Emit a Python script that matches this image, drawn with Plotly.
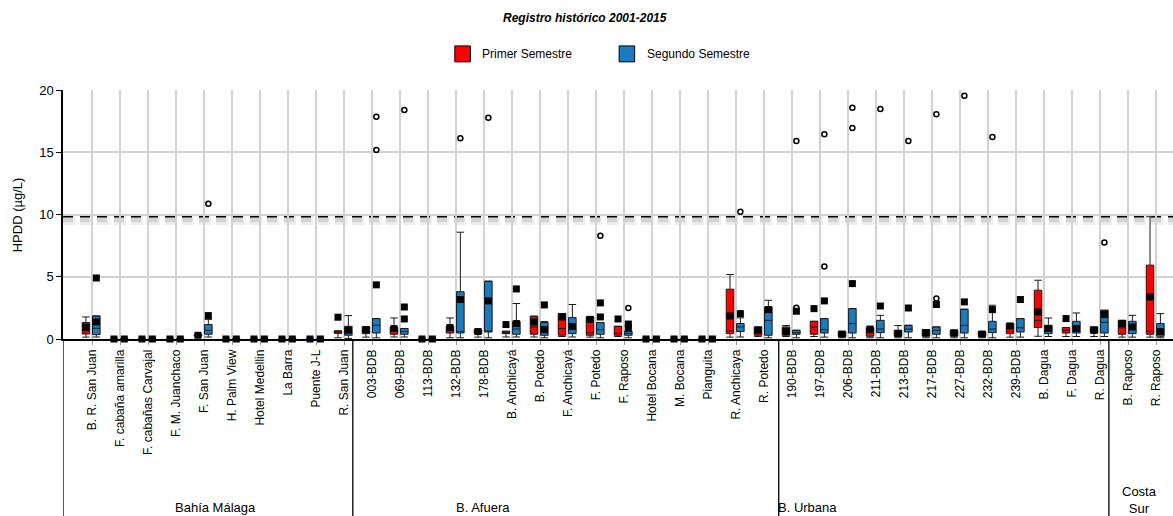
import plotly.graph_objects as go

categories = ["B. R. San Juan", "F. cabaña amarilla", "F. cabañas Carvajal", "F. M. Juanchaco",
              "F. San Juan", "H. Palm View", "Hotel Medellin", "La Barra", "Puente J-L", "R. San Juan",
              "003-BDB", "069-BDB", "113-BDB", "132-BDB", "178-BDB", "B. Anchicayá", "B. Potedo",
              "F. Anchicayá", "F. Potedo", "F. Raposo", "Hotel Bocana", "M. Bocana", "Pianguita",
              "R. Anchicaya", "R. Potedo", "190-BDB", "197-BDB", "206-BDB", "211-BDB", "213-BDB",
              "217-BDB", "227-BDB", "232-BDB", "239-BDB", "B. Dagua", "F. Dagua", "R. Dagua",
              "B. Raposo", "R. Raposo"]

groups = ["Bahía Málaga", "B. Afuera", "B. Urbana", "Costa<br>Sur"]

# Primer Semestre (red) box statistics
red_low = [0.15, 0, 0, 0, 0.2, 0, 0, 0, 0, 0.1, 0.15, 0.16, 0, 0.1, 0.15, 0.16, 0.16, 0.2, 0.15, 0.2,
           0, 0, 0, 0.15, 0.2, 0.2, 0.2, 0.1, 0.1, 0.1, 0.1, 0.1, 0.1, 0.15, 0.22, 0.2, 0.2, 0.15, 0.15]
red_q1 = [0.4, 0, 0, 0, 0.25, 0, 0, 0, 0, 0.45, 0.43, 0.38, 0, 0.48, 0.43, 0.43, 0.38, 0.3, 0.3, 0.3,
          0, 0, 0, 0.43, 0.3, 0.3, 0.38, 0.2, 0.22, 0.22, 0.22, 0.22, 0.2, 0.43, 0.92, 0.48, 0.48, 0.38, 0.38]
red_med = [0.65, 0, 0, 0, 0.3, 0, 0, 0, 0, 0.55, 0.6, 0.6, 0, 0.7, 0.6, 0.5, 0.97, 0.84, 0.5, 0.46,
           0, 0, 0, 0.65, 0.5, 0.55, 0.97, 0.35, 0.5, 0.4, 0.45, 0.45, 0.4, 0.6, 1.5, 0.7, 0.7, 0.9, 0.62]
red_q3 = [1.32, 0, 0, 0, 0.35, 0, 0, 0, 0, 0.65, 0.97, 0.97, 0, 1.02, 0.75, 0.62, 1.83, 2.04, 1.77, 1.02,
          0, 0, 0, 4.0, 0.97, 0.97, 1.42, 0.6, 0.92, 0.7, 0.75, 0.7, 0.6, 1.24, 3.92, 0.92, 0.97, 1.5, 5.93]
red_high = [1.77, 0, 0, 0, 0.38, 0, 0, 0, 0, 0.65, 0.97, 1.69, 0, 1.69, 0.75, 0.62, 1.83, 2.04, 1.77, 1.02,
            0, 0, 0, 5.18, 0.97, 1.08, 1.42, 0.6, 0.92, 1.08, 0.75, 0.7, 0.6, 1.24, 4.72, 0.92, 0.97, 1.5, 9.82]

# Segundo Semestre (blue) box statistics
blue_low = [0.16, 0, 0, 0, 0.16, 0, 0, 0, 0, 0.05, 0.1, 0.16, 0, 0.1, 0.1, 0.16, 0.1, 0.16, 0.1, 0.1,
            0, 0, 0, 0.16, 0.1, 0.1, 0.15, 0.1, 0.1, 0.1, 0.1, 0.1, 0.1, 0.15, 0.2, 0.2, 0.2, 0.15, 0.1]
blue_q1 = [0.35, 0, 0, 0, 0.38, 0, 0, 0, 0, 0.3, 0.48, 0.38, 0, 0.48, 0.56, 0.38, 0.3, 0.43, 0.38, 0.3,
           0, 0, 0, 0.6, 0.3, 0.38, 0.48, 0.48, 0.51, 0.56, 0.38, 0.48, 0.51, 0.56, 0.43, 0.48, 0.48, 0.43, 0.22]
blue_med = [0.86, 0, 0, 0, 0.7, 0, 0, 0, 0, 0.6, 1.1, 0.6, 0, 0.6, 0.6, 0.8, 0.6, 0.8, 0.75, 0.45,
            0, 0, 0, 0.97, 1.5, 0.5, 0.75, 1.24, 0.8, 0.8, 0.7, 1.1, 0.8, 0.9, 0.8, 1.0, 1.34, 0.97, 0.75]
blue_q3 = [1.85, 0, 0, 0, 1.16, 0, 0, 0, 0, 1.02, 1.64, 0.84, 0, 3.8, 4.64, 1.42, 1.32, 1.72, 1.32, 0.62,
           0, 0, 0, 1.24, 2.57, 0.7, 1.64, 2.44, 1.5, 1.1, 0.97, 2.39, 1.42, 1.64, 1.1, 1.42, 2.31, 1.42, 1.24]
blue_high = [1.85, 0, 0, 0, 1.58, 0, 0, 0, 0, 1.88, 1.64, 0.84, 0, 8.58, 4.64, 2.85, 1.4, 2.77, 1.32, 0.62,
             0, 0, 0, 1.7, 3.11, 0.7, 1.64, 2.44, 1.9, 1.1, 0.97, 2.39, 2.71, 1.64, 1.69, 2.09, 2.31, 1.9, 2.04]

# black square markers (category index, value)
red_sq_cat = [0, 1, 2, 3, 4, 5, 6, 7, 8, 9, 10, 11, 12, 13, 14, 15, 16, 17, 18, 19, 20, 21, 22,
              23, 24, 25, 26, 27, 28, 29, 30, 31, 32, 33, 34, 35, 36, 37, 38]
red_sq_val = [0.95, 0, 0, 0, 0.3, 0, 0, 0, 0, 1.75, 0.75, 0.84, 0, 0.92, 0.6, 1.16, 1.37, 1.77, 1.58, 1.61,
              0, 0, 0, 1.85, 0.7, 0.6, 2.44, 0.4, 0.8, 0.45, 0.5, 0.5, 0.4, 1.05, 2.17, 1.64, 0.7, 1.24, 3.38]
blue_sq_cat = [0, 0, 1, 2, 3, 4, 5, 6, 7, 8, 9, 10, 11, 11, 12, 13, 14, 15, 15, 16, 16, 17, 18, 18,
               19, 19, 20, 21, 22, 23, 24, 25, 26, 27, 28, 29, 30, 31, 32, 33, 34, 35, 36, 37, 38]
blue_sq_val = [1.37, 4.9, 0, 0, 0, 1.88, 0, 0, 0, 0, 0.7, 4.35, 1.61, 2.57, 0, 3.17, 3.06, 1.24, 4.02,
               0.75, 2.74, 1.0, 1.77, 2.9, 1.2, 0.9, 0, 0, 0, 2.04, 2.36, 2.23, 3.06, 4.45, 2.65, 2.49,
               2.77, 2.98, 2.36, 3.17, 0.84, 0.84, 1.96, 0.97, 0.6]

# open-circle outliers (all in Segundo Semestre)
blue_out_cat = [4, 10, 10, 11, 13, 14, 18, 19, 23, 25, 25, 26, 26, 27, 27, 28, 29, 30, 30, 31, 32, 36]
blue_out_val = [10.86, 17.86, 15.18, 18.4, 16.12, 17.78, 8.29, 2.5, 10.22, 15.9, 2.52, 16.44, 5.82,
                18.58, 16.95, 18.48, 15.9, 18.05, 3.25, 19.53, 16.22, 7.76]

limit_dashed = 9.87
limit_solid = 5

RED = "#FF0000"
BLUE = "#1B7BC0"
OFF_R, OFF_B = -0.22, 0.15
FONT = "Liberation Sans, Arial, sans-serif"

n = len(categories)
idx = list(range(n))

fig = go.Figure()

fig.add_trace(go.Box(
    x=[i + OFF_R for i in idx], q1=red_q1, median=red_med, q3=red_q3,
    lowerfence=red_low, upperfence=red_high, width=0.27, whiskerwidth=1,
    fillcolor=RED, line=dict(color="#1a1a1a", width=1), boxpoints=False,
    name="Primer Semestre", showlegend=False))
fig.add_trace(go.Box(
    x=[i + OFF_B for i in idx], q1=blue_q1, median=blue_med, q3=blue_q3,
    lowerfence=blue_low, upperfence=blue_high, width=0.27, whiskerwidth=1,
    fillcolor=BLUE, line=dict(color="#1a1a1a", width=1), boxpoints=False,
    name="Segundo Semestre", showlegend=False))

fig.add_trace(go.Scatter(
    x=[c + OFF_R for c in red_sq_cat], y=red_sq_val, mode="markers",
    marker=dict(symbol="square", size=7, color="black"), cliponaxis=False, showlegend=False))
fig.add_trace(go.Scatter(
    x=[c + OFF_B for c in blue_sq_cat], y=blue_sq_val, mode="markers",
    marker=dict(symbol="square", size=7, color="black"), cliponaxis=False, showlegend=False))
fig.add_trace(go.Scatter(
    x=[c + OFF_B for c in blue_out_cat], y=blue_out_val, mode="markers",
    marker=dict(symbol="circle-open", size=5, color="black", line=dict(width=1.5)),
    cliponaxis=False, showlegend=False))

shapes = []
# dashed reference line with soft shadow
shapes.append(dict(type="line", xref="paper", x0=0, x1=1, yref="y", y0=limit_dashed - 0.35,
                   y1=limit_dashed - 0.35, line=dict(color="rgba(0,0,0,0.07)", width=9, dash="12px,5px"),
                   layer="below"))
shapes.append(dict(type="line", xref="paper", x0=0, x1=1, yref="y", y0=limit_dashed - 0.3,
                   y1=limit_dashed - 0.3, line=dict(color="rgba(0,0,0,0.10)", width=5, dash="10px,7px"),
                   layer="below"))
shapes.append(dict(type="line", xref="paper", x0=0, x1=1, yref="y", y0=limit_dashed, y1=limit_dashed,
                   line=dict(color="black", width=3, dash="10px,7px"), layer="below"))
shapes.append(dict(type="line", xref="paper", x0=0, x1=1, yref="y", y0=limit_solid, y1=limit_solid,
                   line=dict(color="#222222", width=1.3), layer="below"))
# group separators below the axis
for sx in [-1.04, 9.31, 24.52, 36.31]:
    shapes.append(dict(type="line", xref="x", x0=sx, x1=sx, yref="paper", y0=0, y1=-0.72,
                       line=dict(color="black", width=1.3)))

# legend drawn manually
shapes.append(dict(type="rect", xref="paper", yref="paper", x0=0.353, x1=0.367, y0=1.113, y1=1.177,
                   fillcolor=RED, line=dict(color="black", width=1)))
shapes.append(dict(type="rect", xref="paper", yref="paper", x0=0.501, x1=0.515, y0=1.113, y1=1.177,
                   fillcolor=BLUE, line=dict(color="black", width=1)))

annotations = [
    dict(text="<b><i>Registro histórico 2001-2015</i></b>", xref="paper", yref="paper", x=0.470, y=1.29,
         xanchor="center", yanchor="middle",
         showarrow=False, font=dict(size=12, family=FONT, color="black")),
    dict(text="Primer Semestre", xref="paper", yref="paper", x=0.376, y=1.145, xanchor="left",
         yanchor="middle", showarrow=False, font=dict(size=12, family=FONT, color="black")),
    dict(text="Segundo Semestre", xref="paper", yref="paper", x=0.524, y=1.145, xanchor="left",
         yanchor="middle", showarrow=False, font=dict(size=12, family=FONT, color="black")),
    dict(text="HPDD (µg/L)", xref="paper", yref="paper", x=-0.0414, y=0.497, textangle=-90,
         xanchor="center", yanchor="middle",
         showarrow=False, font=dict(size=13, family=FONT, color="black")),
]
group_x = [0.137, 0.378, 0.671, 0.970]
group_y = [-0.677, -0.677, -0.677, -0.645]
for g, gx, gy in zip(groups, group_x, group_y):
    annotations.append(dict(text=g, xref="paper", yref="paper", x=gx, y=gy, showarrow=False,
                            xanchor="center", yanchor="middle",
                            font=dict(size=13, family=FONT, color="black")))

fig.update_layout(
    width=1173, height=516,
    margin=dict(l=63, r=0, t=90, b=177.3),
    paper_bgcolor="white", plot_bgcolor="white",
    boxmode="overlay",
    shapes=shapes, annotations=annotations,
    font=dict(family=FONT, size=12, color="black"),
    xaxis=dict(range=[-1.04, 38.6], tickmode="array", tickvals=idx, ticktext=categories,
               tickangle=-90, showgrid=True, gridcolor="#d2d2d2", gridwidth=1.5,
               showline=True, linecolor="black", linewidth=1.5,
               ticks="outside", ticklen=4, tickcolor="#999999",
               tickfont=dict(size=12, family=FONT, color="black"), zeroline=False),
    yaxis=dict(range=[0, 20], tickvals=[0, 5, 10, 15, 20], showgrid=True, gridcolor="#d2d2d2",
               gridwidth=1.5, showline=True, linecolor="black", linewidth=1.5,
               ticks="outside", ticklen=5, tickcolor="black",
               tickfont=dict(size=13, family=FONT, color="black"), zeroline=False),
)

fig.write_html("out.html", config={"displayModeBar": False},
               post_script="document.body.style.margin='0';document.body.style.overflow='hidden';")
